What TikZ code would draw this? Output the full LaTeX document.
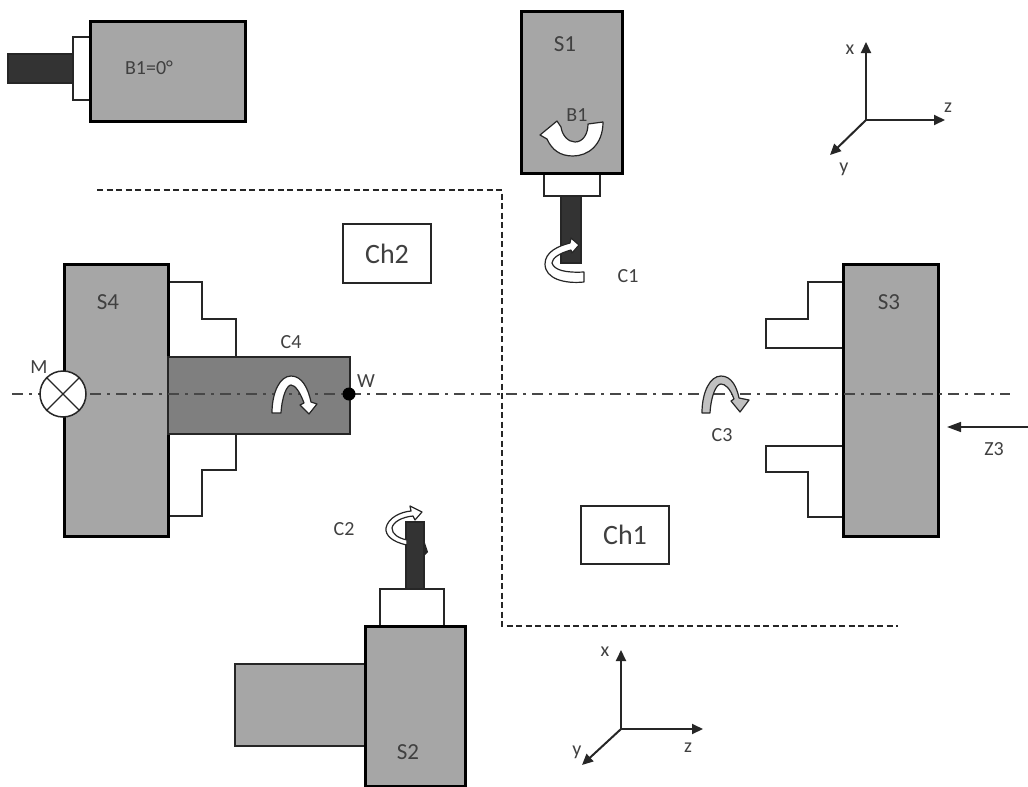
\documentclass[tikz,border=0pt]{standalone}
\usepackage{fontspec}
\setmainfont{Carlito}
\usetikzlibrary{arrows.meta}
\definecolor{bodygray}{HTML}{A6A6A6}
\definecolor{partgray}{HTML}{7F7F7F}
\definecolor{tooldark}{HTML}{333333}
\definecolor{inkdark}{HTML}{262626}
\definecolor{txt}{HTML}{404040}
\tikzset{
  x=1pt,y=-1pt,
  body/.style={draw=black,line width=3pt,fill=bodygray,inner sep=0pt,outer sep=0pt},
  part/.style={draw=inkdark,line width=2pt,fill=partgray,inner sep=0pt,outer sep=0pt},
  sidebox/.style={draw=inkdark,line width=2pt,fill=bodygray,inner sep=0pt,outer sep=0pt},
  holder/.style={draw=inkdark,line width=2pt,fill=white,inner sep=0pt,outer sep=0pt},
  tool/.style={draw=inkdark,line width=1.5pt,fill=tooldark,inner sep=0pt,outer sep=0pt},
  chbox/.style={draw=inkdark,line width=1.2pt,fill=white,inner sep=0pt,outer sep=0pt},
  jaw/.style={draw=inkdark,line width=2pt,fill=white},
  lab/.style={font=\fontsize{20}{22}\selectfont,text=txt,inner sep=0pt},
  biglab/.style={font=\fontsize{23}{25}\selectfont,text=txt,inner sep=0pt},
  chlab/.style={font=\fontsize{28}{30}\selectfont,text=txt,inner sep=0pt},
  axis/.style={draw=inkdark,line width=2pt,-{Triangle[length=11pt,width=10pt]}},
  rot/.style={draw=inkdark,line width=1.2pt,fill=white,line join=round},
  rotg/.style={draw=inkdark,line width=1.2pt,fill=bodygray!70,line join=round},
  centerl/.style={draw=inkdark!85,line width=2.4pt,dash pattern=on 11pt off 6pt on 3pt off 6pt},
  chain/.style={draw=inkdark,line width=1.6pt,dash pattern=on 6pt off 3.5pt}
}
\newcommand{\bx}[6]{\node[#6,minimum width={(#4-#2)*1pt},minimum height={(#5-#3)*1pt}] (#1) at ({(#2+#4)/2},{(#3+#5)/2}) {};}
\begin{document}
\begin{tikzpicture}
\useasboundingbox (0,0) rectangle (1028,787);
% top-left spindle
\bx{tlbar}{8}{54}{73}{83}{tool}
\bx{tlhold}{73}{37}{90}{100}{holder}
\bx{tlbody}{90}{21}{245}{121}{body}
\node[lab] (tllab) at (149,68) {B1=0°};
% S1
\bx{sonetool}{561}{196}{581}{263}{tool}
\bx{sonehold}{544}{173}{600}{196}{holder}
\bx{sonebody}{521}{11}{622}{173}{body}
\node[biglab] (sonelab) at (565,44) {S1};
\path[rot] (603,122) .. controls (603,145) and (588,156) .. (573,156)
  .. controls (560,156) and (552,150) .. (547,139) -- (540,135) -- (557,121) -- (561,127)
  .. controls (562,135) and (568,142) .. (575,142) .. controls (583,142) and (588,134) .. (588,124) -- cycle;
\node[lab] (bonelab) at (577,115) {B1};
\path[rot] (584,282) .. controls (565,284) and (545,279) .. (545,264)
  .. controls (545,252) and (558,246) .. (570,243) -- (571,238) -- (579,245) -- (572,253) -- (571,250)
  .. controls (560,253) and (552,258) .. (552,263) .. controls (554,270) and (565,273) .. (584,272) -- cycle;
\node[lab] (conelab) at (628,276) {C1};
% S2
\bx{stwotool}{406}{522}{424}{589}{tool}
\bx{stwohold}{380}{589}{444}{626}{holder}
\bx{stwoside}{235}{664}{365}{746}{sidebox}
\bx{stwobody}{365}{626}{465}{786}{body}
\node[biglab] (stwolab) at (408,752) {S2};
\path[rot] (407,545) .. controls (392,542) and (385,535) .. (386,528)
  .. controls (388,518) and (400,512) .. (411,511) -- (410,506) -- (422,512) -- (415,520) -- (413,516)
  .. controls (402,517) and (393,522) .. (392,528) .. controls (392,534) and (398,538) .. (407,540) -- cycle;
\fill[inkdark] (424,540) -- (428,552) -- (424,556) -- cycle;
\node[lab] (ctwolab) at (344,529) {C2};
% S3
\path[jaw] (843,282) -- (808,282) -- (808,319) -- (766,319) -- (766,348) -- (843,348);
\path[jaw] (843,446) -- (766,446) -- (766,472) -- (808,472) -- (808,517) -- (843,517);
\bx{sthreebody}{843}{264}{938}{536}{body}
\node[biglab] (sthreelab) at (889,302) {S3};
% S4
\path[jaw] (168,282) -- (202,282) -- (202,319) -- (236,319) -- (236,470) -- (202,470) -- (202,516) -- (168,516);
\bx{sfourbody}{64}{264}{168}{536}{body}
\bx{workpiece}{168}{357}{350}{434}{part}
\node[biglab] (sfourlab) at (108,302) {S4};
% channels
\bx{chtwo}{343}{224}{431}{283}{chbox}
\node[chlab] (chtwolab) at (387,254) {Ch2};
\bx{chone}{581}{506}{669}{564}{chbox}
\node[chlab] (chonelab) at (625,535) {Ch1};
% chain line
\coordinate (da) at (97,190);
\coordinate (db) at (502,190);
\coordinate (dc) at (502,626);
\coordinate (dd) at (898,626);
\draw[chain] (da) -- (db) -- (dc) -- (dd);
% centre line
\coordinate (cla) at (12,394);
\coordinate (clb) at (1010,394);
\draw[centerl] (cla) -- (clb);
% M, W
\node[circle,draw=inkdark,line width=1.5pt,fill=white,minimum size=46pt,inner sep=0pt] (mach) at (63,394) {};
\draw[inkdark,line width=1.2pt] (mach.north west) -- (mach.south east) (mach.north east) -- (mach.south west);
\node[lab] (mlab) at (39,367) {M};
\node[circle,fill=black,minimum size=13pt,inner sep=0pt] (wdot) at (349,394) {};
\node[lab] (wlab) at (366,381) {W};
\node[lab] (cfourlab) at (291,342) {C4};
\path[rot] (272,413) .. controls (272,392) and (280,376) .. (291,376)
  .. controls (302,376) and (308,388) .. (311,402) -- (317,404) -- (309,414) -- (300,405) -- (304,403)
  .. controls (300,392) and (295,385) .. (291,385) .. controls (287,385) and (282,396) .. (281,413) -- cycle;
% C3
\path[rotg] (702,413) .. controls (702,392) and (710,376) .. (721,376)
  .. controls (732,376) and (737,388) .. (739,398) -- (749,400) -- (740,412) -- (731,401) -- (734,399)
  .. controls (730,388) and (725,384) .. (721,384) .. controls (716,384) and (711,396) .. (710,413) -- cycle;
\node[lab] (cthreelab) at (722,435) {C3};
% Z3
\coordinate (zs) at (1028,427);
\coordinate (ze) at (947,427);
\draw[draw=inkdark,line width=1.5pt,-{Triangle[length=14pt,width=10pt]}] (zs) -- (ze);
\node[lab] (zlab) at (994,449) {Z3};
% axes top
\coordinate (ao) at (866,120);
\coordinate (ax) at (866,42);
\coordinate (az) at (945,120);
\coordinate (ay) at (830,155);
\draw[axis] (ao) -- (ax);
\draw[axis] (ao) -- (az);
\draw[axis] (ao) -- (ay);
\node[lab] (axl) at (850,50) {x};
\node[lab] (azl) at (948,108) {z};
\node[lab] (ayl) at (844,169) {y};
% axes bottom
\coordinate (bo) at (621,729);
\coordinate (bx) at (621,650);
\coordinate (bz) at (703,729);
\coordinate (by) at (582,765);
\draw[axis] (bo) -- (bx);
\draw[axis] (bo) -- (bz);
\draw[axis] (bo) -- (by);
\node[lab] (bxl) at (605,652) {x};
\node[lab] (bzl) at (688,748) {z};
\node[lab] (byl) at (577,752) {y};
\end{tikzpicture}
\end{document}
